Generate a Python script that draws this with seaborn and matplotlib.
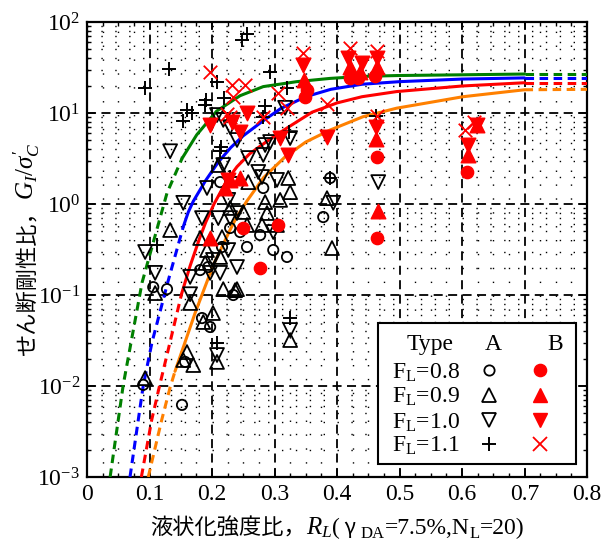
import numpy as np
import matplotlib
matplotlib.use("Agg")
import matplotlib.pyplot as plt
import seaborn as sns
from matplotlib.ticker import MultipleLocator, LogLocator, FuncFormatter, NullFormatter
from matplotlib.transforms import IdentityTransform
from matplotlib.patches import Rectangle

# ---------------- data ----------------
# F_L = 0.8
fl08_a_x = [0.213, 0.282, 0.229, 0.256, 0.277, 0.298, 0.320, 0.378, 0.389, 0.194, 0.181, 0.106, 0.128,
            0.184, 0.197, 0.157, 0.090, 0.152, 0.234, 0.216, 0.245]
fl08_a_y = [1.74, 1.50, 0.545, 0.337, 0.456, 0.312, 0.262, 0.719, 1.93, 0.203, 0.188, 0.122, 0.116,
            0.0558, 0.0445, 0.0184, 0.0103, 0.0062, 0.100, 0.337, 0.492]
fl08_b_x = [0.250, 0.306, 0.277, 0.421, 0.434, 0.461, 0.349, 0.352, 0.464, 0.464, 0.608]
fl08_b_y = [0.545, 0.588, 0.198, 24.3, 24.3, 25.5, 15.0, 17.9, 3.28, 0.423, 2.25]
# F_L = 0.9
fl09_a_x = [0.210, 0.258, 0.322, 0.325, 0.285, 0.309, 0.250, 0.288, 0.256, 0.280, 0.304, 0.229, 0.216,
            0.181, 0.133, 0.192, 0.213, 0.384, 0.392, 0.189, 0.109, 0.165, 0.218, 0.237, 0.2016, 0.186,
            0.208, 0.160, 0.154, 0.170, 0.093, 0.325, 0.240]
fl09_a_y = [2.68, 1.74, 1.93, 1.35, 1.05, 1.11, 0.817, 0.796, 0.588, 0.588, 0.588, 0.904, 0.433,
            0.423, 0.518, 0.312, 0.262, 1.16, 0.328, 0.225, 0.105, 0.0817, 0.116, 0.113, 0.0634, 0.0505,
            0.0184, 0.0236, 0.0193, 0.0170, 0.0122, 0.0320, 0.116]
fl09_b_x = [0.221, 0.245, 0.229, 0.197, 0.421, 0.437, 0.464, 0.347, 0.466, 0.610, 0.624, 0.462]
fl09_b_y = [1.50, 1.93, 1.84, 0.423, 32.0, 28.2, 32.0, 23.0, 0.84, 3.46, 7.38, 5.2]
# F_L = 1.0
fl10_a_x = [0.133, 0.258, 0.282, 0.218, 0.274, 0.280, 0.304, 0.192, 0.154, 0.226, 0.184, 0.210, 0.229,
            0.240, 0.298, 0.394, 0.093, 0.109, 0.226, 0.2016, 0.240, 0.165, 0.197, 0.213, 0.165, 0.208,
            0.325, 0.466, 0.208, 0.218, 0.229, 0.240, 0.285, 0.293, 0.325, 0.317]
fl10_a_y = [3.8, 3.2, 3.46, 2.68, 2.25, 1.98, 1.84, 1.50, 1.03, 1.11, 0.70, 0.70, 0.70,
            0.796, 0.492, 1.03, 0.297, 0.175, 0.312, 0.243, 0.203, 0.158, 0.175, 0.175, 0.102, 0.0219,
            0.0412, 1.74, 9.5, 8.4, 7.0, 5.05, 4.45, 4.8, 5.3, 11.4]
fl10_b_x = [0.197, 0.232, 0.256, 0.245, 0.309, 0.322, 0.384, 0.346, 0.418, 0.440, 0.464, 0.226,
            0.462, 0.610, 0.624]
fl10_b_y = [7.38, 7.96, 10.0, 6.18, 5.31, 3.46, 5.45, 33.7, 40.2, 35.4, 40.2, 1.84,
            7.0, 4.45, 7.38]
# F_L = 1.1
fl11_a_x = [0.256, 0.248, 0.131, 0.093, 0.208, 0.293, 0.320, 0.190, 0.189, 0.160, 0.168, 0.154, 0.219,
            0.285, 0.282, 0.323, 0.214, 0.213, 0.389, 0.112, 0.325, 0.208, 0.462, 0.229]
fl11_a_y = [73.8, 63.4, 30.4, 18.8, 21.9, 28.2, 18.8, 13.9, 12.2, 10.8, 10.0, 8.2, 14.6,
            11.9, 9.04, 6.18, 4.23, 3.82, 1.93, 0.354, 0.0558, 0.0297, 9.2, 2.0]
fl11_b_x = [0.197, 0.232, 0.253, 0.234, 0.306, 0.320, 0.346, 0.384, 0.229, 0.224, 0.282, 0.421,
            0.464, 0.464, 0.605, 0.619]
fl11_b_y = [28.2, 20.3, 20.3, 15.0, 16.6, 11.4, 45.6, 12.5, 9.0, 9.8, 9.04, 51.8,
            48.0, 9.2, 6.5, 7.96]

# fitted curves
green_x = [0.037, 0.058, 0.088, 0.128, 0.152, 0.1755, 0.2075, 0.245, 0.282, 0.3355, 0.389, 0.437,
           0.496, 0.602, 0.700, 0.800]
green_y = [0.001, 0.0103, 0.136, 1.32, 3.16, 5.75, 10.5, 15.5, 19.5, 22.1, 24.0, 25.2,
           25.8, 26.3, 26.8, 26.8]
blue_x = [0.0688, 0.090, 0.104, 0.1296, 0.154, 0.162, 0.170, 0.190, 0.210, 0.230, 0.250, 0.280,
          0.310, 0.350, 0.390, 0.440, 0.500, 0.600, 0.700, 0.800]
blue_y = [0.001, 0.0101, 0.0302, 0.141, 0.562, 0.813, 1.07, 1.82, 2.88, 4.17, 5.62, 8.04,
          11.2, 15.1, 18.2, 20.7, 22.1, 23.6, 24.3, 24.3]
red_x = [0.087, 0.1035, 0.116, 0.1335, 0.1515, 0.165, 0.180, 0.190, 0.2032, 0.2235, 0.240, 0.260,
         0.290, 0.320, 0.360, 0.400, 0.440, 0.4955, 0.600, 0.700, 0.800]
red_y = [0.001, 0.00423, 0.0100, 0.0316, 0.104, 0.209, 0.417, 0.631, 1.00, 1.80, 2.57, 3.55,
         5.0, 6.84, 10.2, 12.9, 15.1, 17.2, 19.8, 21.5, 21.5]
orange_x = [0.098, 0.1195, 0.1328, 0.1408, 0.1728, 0.2021, 0.229, 0.2395, 0.2555, 0.2825, 0.317,
            0.350, 0.389, 0.4416, 0.4955, 0.6016, 0.700, 0.800]
orange_y = [0.001, 0.00423, 0.00955, 0.0145, 0.063, 0.214, 0.52, 0.72, 1.07, 1.95, 3.3,
            4.8, 6.5, 9.1, 11.3, 15.1, 18.0, 18.2]
curve_solid_lo = {"green": 0.152, "blue": 0.154, "red": 0.1515, "orange": 0.1408}
curve_solid_hi = 0.700
curve_colors = {"green": "#008000", "blue": "#0000ff", "red": "#ff0000", "orange": "#ff8000"}

legend_rows = ["0.8", "0.9", "1.0", "1.1"]

# ---------------- style ----------------
sns.set_theme(style="ticks")
plt.rcParams.update({
    "font.family": ["Liberation Serif", "Noto Sans CJK JP"],
    "mathtext.fontset": "custom",
    "mathtext.rm": "Liberation Serif",
    "mathtext.it": "Liberation Serif:italic",
    "mathtext.bf": "Liberation Serif:bold",
    "axes.unicode_minus": False,
    "axes.edgecolor": "black",
    "xtick.color": "black",
    "ytick.color": "black",
    "text.color": "black",
    "figure.facecolor": "white",
    "axes.facecolor": "white",
})

W, H = 612, 548
fig = plt.figure(figsize=(W / 100, H / 100), dpi=100)
ax = fig.add_axes([87 / W, 71 / H, 500 / W, 455 / H])
ax.set_yscale("log")
ax.set_xlim(0, 0.8)
ax.set_ylim(1e-3, 1e2)

# grid
ax.set_axisbelow(True)
ax.xaxis.set_major_locator(MultipleLocator(0.1))
ax.xaxis.set_minor_locator(MultipleLocator(0.025))
ax.yaxis.set_major_locator(LogLocator(base=10, numticks=10))
ax.yaxis.set_minor_locator(LogLocator(base=10, subs=np.arange(2, 10), numticks=20))
ax.yaxis.set_minor_formatter(NullFormatter())
ax.xaxis.set_major_formatter(FuncFormatter(lambda v, p: "0" if abs(v) < 1e-9 else f"{v:.1f}"))
ax.grid(which="major", color="black", linestyle=(0, (5, 3)), linewidth=1.3)
ax.grid(which="minor", color="black", linestyle=(0, (1, 9)), linewidth=1.0)

ax.tick_params(which="both", direction="in", top=True, right=True, colors="black")
ax.tick_params(which="major", length=6, width=1.2, labelsize=17, pad=5)
ax.tick_params(which="minor", length=3, width=1.0)
for sp in ax.spines.values():
    sp.set_linewidth(1.6)
    sp.set_color("black")

# curves
curves = {"green": (green_x, green_y), "blue": (blue_x, blue_y),
          "red": (red_x, red_y), "orange": (orange_x, orange_y)}
for name, (cx, cy) in curves.items():
    cx = np.asarray(cx); cy = np.asarray(cy)
    lo = curve_solid_lo[name]; hi = curve_solid_hi
    col = curve_colors[name]
    segs = [(cx <= lo + 1e-9, (0, (2.8, 1.8))),
            ((cx >= lo - 1e-9) & (cx <= hi + 1e-9), "-"),
            (cx >= hi - 1e-9, (0, (2.8, 1.8)))]
    for mask, ls in segs:
        sns.lineplot(x=cx[mask], y=cy[mask], ax=ax, color=col, linewidth=2.2,
                     linestyle=ls, sort=False, estimator=None, legend=False, zorder=4)

# scatter groups
open_groups = [
    (fl08_a_x, fl08_a_y, "o", 55),
    (fl09_a_x, fl09_a_y, "^", 100),
    (fl10_a_x, fl10_a_y, "v", 100),
]
filled_groups = [
    (fl08_b_x, fl08_b_y, "o", 78),
    (fl09_b_x, fl09_b_y, "^", 110),
    (fl10_b_x, fl10_b_y, "v", 110),
]
for gx, gy, mk, sz in open_groups:
    sns.scatterplot(x=gx, y=gy, ax=ax, marker=mk, s=sz, facecolor="none",
                    edgecolor="black", linewidth=1.3, zorder=5, legend=False)
for gx, gy, mk, sz in filled_groups:
    sns.scatterplot(x=gx, y=gy, ax=ax, marker=mk, s=sz, color="red",
                    edgecolor="red", linewidth=1.0, zorder=6, legend=False)
sns.scatterplot(x=fl11_a_x, y=fl11_a_y, ax=ax, marker="+", s=110, color="black",
                linewidth=1.4, zorder=5, legend=False)
sns.scatterplot(x=fl11_b_x, y=fl11_b_y, ax=ax, marker="x", s=95, color="red",
                linewidth=1.3, zorder=6, legend=False)

# ---------------- legend (manual table) ----------------
T = ax.transAxes
ax.add_patch(Rectangle((0.582, 0.0286), 0.396, 0.309, transform=T, facecolor="white",
                       edgecolor="black", linewidth=1.5, zorder=20, clip_on=False))
ax.text(0.686, 0.279, "Type", transform=T, ha="center", va="baseline", fontsize=17, zorder=21)
ax.text(0.8127, 0.279, "A", transform=T, ha="center", va="baseline", fontsize=17, zorder=21)
ax.text(0.936, 0.279, "B", transform=T, ha="center", va="baseline", fontsize=17, zorder=21)
row_base = [0.2165, 0.1626, 0.107, 0.0556]
row_mid = [0.2341, 0.1802, 0.1253, 0.0725]
a_style = [dict(marker="o", ms=7.4, mfc="none", mec="black", mew=1.3),
           dict(marker="^", ms=10, mfc="none", mec="black", mew=1.3),
           dict(marker="v", ms=10, mfc="none", mec="black", mew=1.3),
           dict(marker="+", ms=10.5, color="black", mew=1.4)]
b_style = [dict(marker="o", ms=8.8, mfc="red", mec="red"),
           dict(marker="^", ms=10.5, mfc="red", mec="red"),
           dict(marker="v", ms=10.5, mfc="red", mec="red"),
           dict(marker="x", ms=9.5, color="red", mew=1.3)]
for lab, yb, ym, sa, sb in zip(legend_rows, row_base, row_mid, a_style, b_style):
    ax.text(0.6094, yb, r"F$_{\mathrm{L}}$=" + lab, transform=T, ha="left", va="baseline",
            fontsize=17, zorder=21)
    ax.plot([0.8047], [ym], transform=T, linestyle="none", zorder=22, clip_on=False, **sa)
    ax.plot([0.906], [ym], transform=T, linestyle="none", zorder=22, clip_on=False, **sb)

# ---------------- axis labels built from parts ----------------
fig.canvas.draw()
renderer = fig.canvas.get_renderer()


def place_parts(parts, anchor, center, rotation):
    texts = []
    for s, kw, shift in parts:
        t = fig.text(0, 0, s, transform=IdentityTransform(), rotation=rotation,
                     rotation_mode="anchor", ha="left", va="baseline", **kw)
        texts.append((t, shift))
    advs = []
    for t, shift in texts:
        bb = t.get_window_extent(renderer)
        advs.append(bb.width if rotation == 0 else bb.height)
    pos = center - sum(advs) / 2
    for (t, shift), a in zip(texts, advs):
        if rotation == 0:
            t.set_position((pos, anchor + shift))
        else:
            t.set_position((anchor - shift, pos))
        pos += a


cjk = dict(family="Noto Sans CJK JP", fontsize=16)
ser = dict(family="Liberation Serif", fontsize=17)
sub = dict(family="Liberation Serif", fontsize=12)
xparts = [("液状化強度比，", cjk, 0),
          (r"$R_L$", dict(family="Liberation Serif", fontsize=18), 0),
          ("(", ser, 0),
          (" γ ", dict(family="Noto Sans CJK JP", fontsize=15), 0),
          ("DA", sub, -4),
          ("=7.5%,N", ser, 0),
          ("L", sub, -4),
          ("=20)", ser, 0)]
place_parts(xparts, anchor=H - 534.5, center=337, rotation=0)

yparts = [("せん断剛性比，", cjk, 0),
          (r"$G_I/\sigma_C^{\prime}$", dict(family="Liberation Serif", fontsize=18), 0)]
place_parts(yparts, anchor=34, center=H - 249.5, rotation=90)

fig.savefig("out.png", dpi=100)
